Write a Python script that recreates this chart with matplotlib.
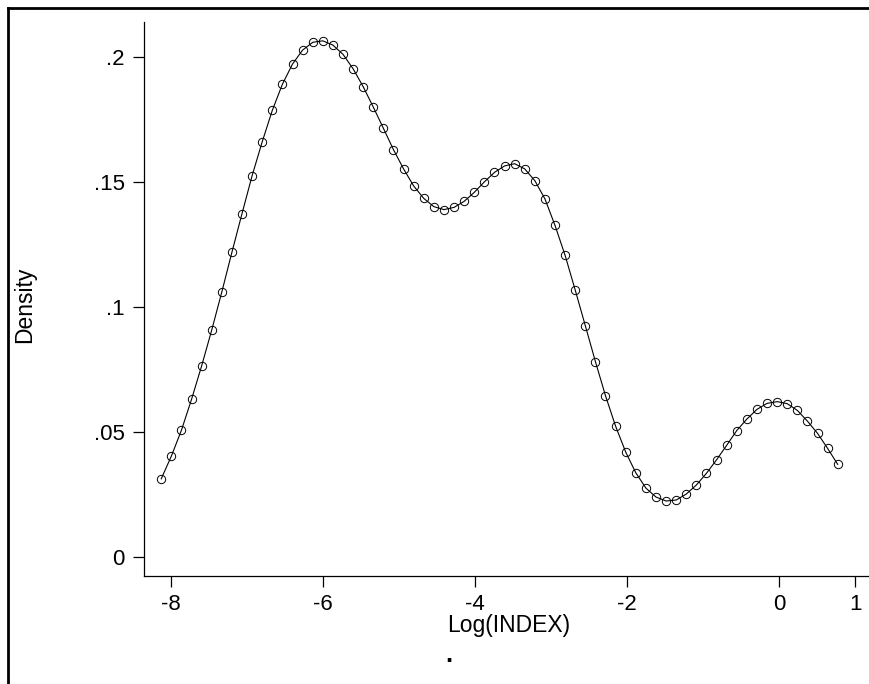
import matplotlib
matplotlib.use("Agg")
import matplotlib.pyplot as plt
from matplotlib.lines import Line2D

plt.rcParams['font.family'] = ['Liberation Sans', 'DejaVu Sans']

# kernel density estimate (log index, density)
log_index = [-8.124, -7.991, -7.858, -7.726, -7.593, -7.460, -7.327, -7.195,
             -7.062, -6.929, -6.796, -6.663, -6.531, -6.398, -6.265, -6.132,
             -6.000, -5.867, -5.734, -5.601, -5.468, -5.336, -5.203, -5.070,
             -4.937, -4.805, -4.672, -4.539, -4.406, -4.273, -4.141, -4.008,
             -3.875, -3.742, -3.609, -3.477, -3.344, -3.211, -3.078, -2.946,
             -2.813, -2.680, -2.547, -2.414, -2.282, -2.149, -2.016, -1.883,
             -1.751, -1.618, -1.485, -1.352, -1.219, -1.087, -0.954, -0.821,
             -0.688, -0.556, -0.423, -0.290, -0.157, -0.024, 0.108, 0.241,
             0.374, 0.507, 0.639, 0.772]
density = [0.0312, 0.0403, 0.0507, 0.0630, 0.0764, 0.0908, 0.1061, 0.1219,
           0.1374, 0.1526, 0.1662, 0.1788, 0.1892, 0.1973, 0.2029, 0.2060,
           0.2066, 0.2049, 0.2012, 0.1954, 0.1882, 0.1801, 0.1716, 0.1630,
           0.1553, 0.1485, 0.1435, 0.1402, 0.1390, 0.1399, 0.1423, 0.1459,
           0.1501, 0.1539, 0.1565, 0.1574, 0.1553, 0.1506, 0.1433, 0.1327,
           0.1207, 0.1068, 0.0925, 0.0781, 0.0645, 0.0523, 0.0419, 0.0336,
           0.0275, 0.0239, 0.0223, 0.0227, 0.0251, 0.0287, 0.0334, 0.0388,
           0.0446, 0.0505, 0.0551, 0.0590, 0.0614, 0.0621, 0.0613, 0.0586,
           0.0543, 0.0494, 0.0434, 0.0370]

x_ticks = [-8, -6, -4, -2, 0, 1]
y_ticks = [0, 0.05, 0.1, 0.15, 0.2]
y_tick_labels = ['0', '.05', '.1', '.15', '.2']

W, H = 870, 684
fig = plt.figure(figsize=(W / 100, H / 100), dpi=100)
ax = fig.add_axes([144 / W, 1 - 576 / H, (W - 144) / W, (576 - 22) / H])

ax.plot(log_index, density, color='black', linewidth=0.8,
        marker='o', markersize=6, markerfacecolor='none',
        markeredgecolor='black', markeredgewidth=0.7)

ax.set_xlim(-8.351, 1.197)
ax.set_ylim(-0.00773, 0.21414)
ax.set_xticks(x_ticks)
ax.set_xticklabels([str(t) for t in x_ticks])
ax.set_yticks(y_ticks)
ax.set_yticklabels(y_tick_labels)

for s in ['top', 'right']:
    ax.spines[s].set_visible(False)
for s in ['left', 'bottom']:
    ax.spines[s].set_linewidth(0.9)
ax.tick_params(axis='both', direction='out', length=8, width=0.9,
               labelsize=16, color='black')
ax.tick_params(axis='y', pad=6)
ax.tick_params(axis='x', pad=5)

# axis titles
fig.text(25 / W, 1 - 305 / H, 'Density', rotation=90, ha='center',
         va='center', fontsize=16.5)
fig.text(509 / W, 1 - 632 / H, 'Log(INDEX)', ha='center', va='baseline',
         fontsize=16.5)
fig.text(449 / W, 1 - 662 / H, '.', ha='center', va='baseline',
         fontsize=18, fontweight='bold')

# outer frame (top and left edges only)
fig.add_artist(Line2D([8 / W, 1], [1 - 8 / H, 1 - 8 / H], color='black',
                      linewidth=2, transform=fig.transFigure))
fig.add_artist(Line2D([8 / W, 8 / W], [0, 1 - 8 / H], color='black',
                      linewidth=2, transform=fig.transFigure))

fig.savefig('out.png', dpi=100)
